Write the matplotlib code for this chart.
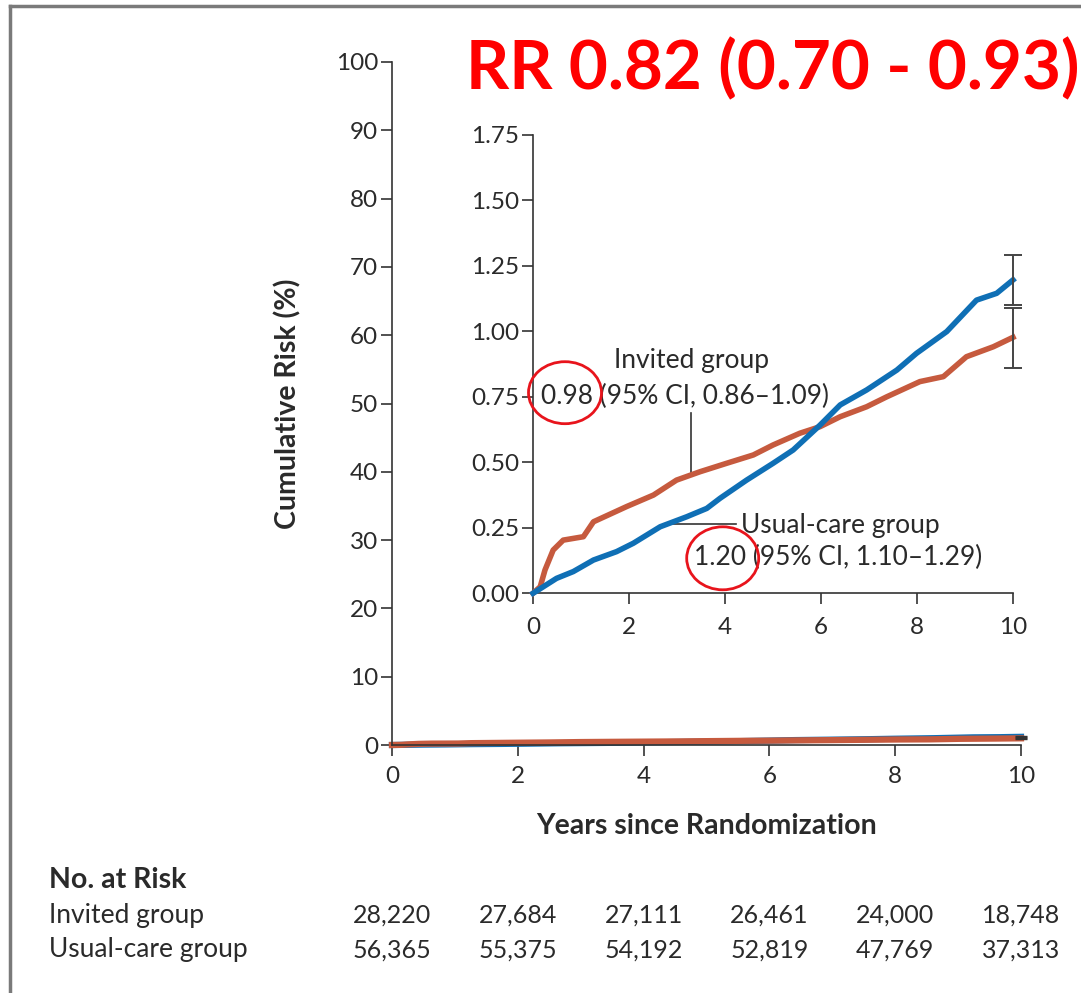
import matplotlib.pyplot as plt
from matplotlib.patches import Ellipse
from matplotlib.lines import Line2D

plt.rcParams['font.family'] = ['Lato', 'DejaVu Sans']

# dati (anni, rischio cumulativo %)
invited_x = [0, 0.15, 0.25, 0.42, 0.63, 1.05, 1.26, 1.95, 2.51, 2.99, 3.48, 4.03, 4.59,
             5.0, 5.56, 5.98, 6.40, 6.95, 7.37, 8.06, 8.55, 9.03, 9.59, 10.0]
invited_y = [0, 0.025, 0.089, 0.165, 0.203, 0.216, 0.273, 0.331, 0.375, 0.432, 0.464, 0.496,
             0.528, 0.566, 0.611, 0.636, 0.674, 0.712, 0.750, 0.808, 0.827, 0.903, 0.941, 0.977]

usual_x = [0, 0.49, 0.84, 1.26, 1.74, 2.09, 2.65, 3.20, 3.62, 3.90, 4.45, 5.0, 5.42,
           5.98, 6.40, 6.95, 7.58, 7.99, 8.62, 9.24, 9.66, 10.0]
usual_y = [0, 0.057, 0.083, 0.127, 0.159, 0.191, 0.254, 0.292, 0.324, 0.363, 0.432, 0.496,
           0.547, 0.642, 0.719, 0.776, 0.852, 0.916, 0.999, 1.119, 1.145, 1.196]

invited_ci = (0.86, 1.09)
usual_ci = (1.10, 1.29)
invited_end = 0.98
usual_end = 1.20

years = [0, 2, 4, 6, 8, 10]
risk_invited = ['28,220', '27,684', '27,111', '26,461', '24,000', '18,748']
risk_usual = ['56,365', '55,375', '54,192', '52,819', '47,769', '37,313']

RED = '#C65A3E'
BLUE = '#0F6FB5'
TXT = '#2a2a2a'
FS = 17.5      # tick
FA = 19        # annotazioni
FB = 20.5      # etichette in grassetto

fig = plt.figure(figsize=(10.81, 9.93), dpi=100)


def style(ax, xpad):
    for s in ['top', 'right']:
        ax.spines[s].set_visible(False)
    for s in ['left', 'bottom']:
        ax.spines[s].set_color('#333333')
        ax.spines[s].set_linewidth(1.2)
    ax.tick_params(direction='out', length=8, width=1.2, color='#333333',
                   labelsize=FS, labelcolor=TXT, pad=2)
    ax.tick_params(axis='x', pad=xpad)
    ax.patch.set_alpha(0)


# asse principale
ax = fig.add_axes([392 / 1081, 1 - 745 / 993, 629 / 1081, 683 / 993])
style(ax, 7)
ax.set_xlim(0, 10)
ax.set_ylim(0, 100)
ax.set_xticks(years)
ax.set_yticks(range(0, 101, 10))
ax.plot(usual_x, usual_y, color=BLUE, lw=4.5, clip_on=False)
ax.plot(invited_x, invited_y, color=RED, lw=4.5, clip_on=False)
ax.errorbar([10, 10], [usual_end, invited_end],
            yerr=[[usual_end - usual_ci[0], invited_end - invited_ci[0]],
                  [usual_ci[1] - usual_end, invited_ci[1] - invited_end]],
            fmt='none', ecolor='#333333', elinewidth=1.2, capsize=4, clip_on=False)

# inset
ins = fig.add_axes([533 / 1081, 1 - 593.3 / 993, 480 / 1081, 458.5 / 993])
style(ins, 9)
ins.set_xlim(0, 10)
ins.set_ylim(0, 1.75)
ins.set_xticks(years)
ins.set_yticks([0, 0.25, 0.5, 0.75, 1.0, 1.25, 1.5, 1.75])
ins.set_yticklabels(['0.00', '0.25', '0.50', '0.75', '1.00', '1.25', '1.50', '1.75'])
ins.plot(invited_x, invited_y, color=RED, lw=4, clip_on=False, zorder=3)
ins.plot(usual_x, usual_y, color=BLUE, lw=4, clip_on=False, zorder=4)
for y, ci in [(usual_end, usual_ci), (invited_end, invited_ci)]:
    ins.errorbar([10], [y], yerr=[[y - ci[0]], [ci[1] - y]], fmt='none',
                 ecolor='#444444', elinewidth=1.4, capsize=6.5, capthick=1.4,
                 clip_on=False, zorder=5)

# annotazioni
ins.text(3.3, 0.89, 'Invited group', fontsize=FA, color=TXT, ha='center', va='center')
ins.text(0.16, 0.752, '0.98 (95% CI, 0.86\u20131.09)', fontsize=FA, color=TXT,
         ha='left', va='center')
ins.add_line(Line2D([3.29, 3.29], [0.45, 0.69], color='#333333', lw=1.2))
ins.text(4.33, 0.26, 'Usual-care group', fontsize=FA, color=TXT, ha='left', va='center')
ins.text(3.35, 0.135, '1.20 (95% CI, 1.10\u20131.29)', fontsize=FA, color=TXT,
         ha='left', va='center')
ins.add_line(Line2D([2.89, 4.22], [0.265, 0.265], color='#333333', lw=1.2))

# cerchi rossi
fig.add_artist(Ellipse((565 / 1081, 1 - 392.7 / 993), 73 / 1081, 62 / 993,
                       fill=False, ec='#E8141C', lw=2))
fig.add_artist(Ellipse((722.7 / 1081, 1 - 558.3 / 993), 72 / 1081, 63 / 993,
                       fill=False, ec='#E8141C', lw=2))

# titolo
fig.text(466 / 1081, 1 - 89 / 993, 'RR 0.82 (0.70 - 0.93)', color='#FF0000',
         fontsize=48.5, fontweight='bold', ha='left', va='baseline')

# etichette assi
fig.text(288 / 1081, 1 - 404 / 993, 'Cumulative Risk (%)', rotation=90, fontsize=FB,
         fontweight='bold', color=TXT, ha='center', va='center')
fig.text(707 / 1081, 1 - 826 / 993, 'Years since Randomization', fontsize=FB,
         fontweight='bold', color=TXT, ha='center', va='center')

# numeri a rischio
fig.text(49 / 1081, 1 - 880 / 993, 'No. at Risk', fontsize=FB, fontweight='bold',
         color=TXT, ha='left', va='center')
fig.text(49 / 1081, 1 - 915 / 993, 'Invited group', fontsize=FA, color=TXT,
         ha='left', va='center')
fig.text(49 / 1081, 1 - 950 / 993, 'Usual-care group', fontsize=FA, color=TXT,
         ha='left', va='center')
for yr, a, b in zip(years, risk_invited, risk_usual):
    xf = ax.transData.transform((yr, 0))[0] / fig.bbox.width
    fig.text(xf, 1 - 915 / 993, a, fontsize=18, color=TXT, ha='center', va='center')
    fig.text(xf, 1 - 950 / 993, b, fontsize=18, color=TXT, ha='center', va='center')

# cornice
fig.add_artist(Line2D([10 / 1081, 10 / 1081], [0, 1 - 6 / 993], color='#7a7a7a', lw=2.5))
fig.add_artist(Line2D([10 / 1081, 1], [1 - 6 / 993, 1 - 6 / 993], color='#7a7a7a', lw=2.5))

fig.savefig('out.png', dpi=100)
